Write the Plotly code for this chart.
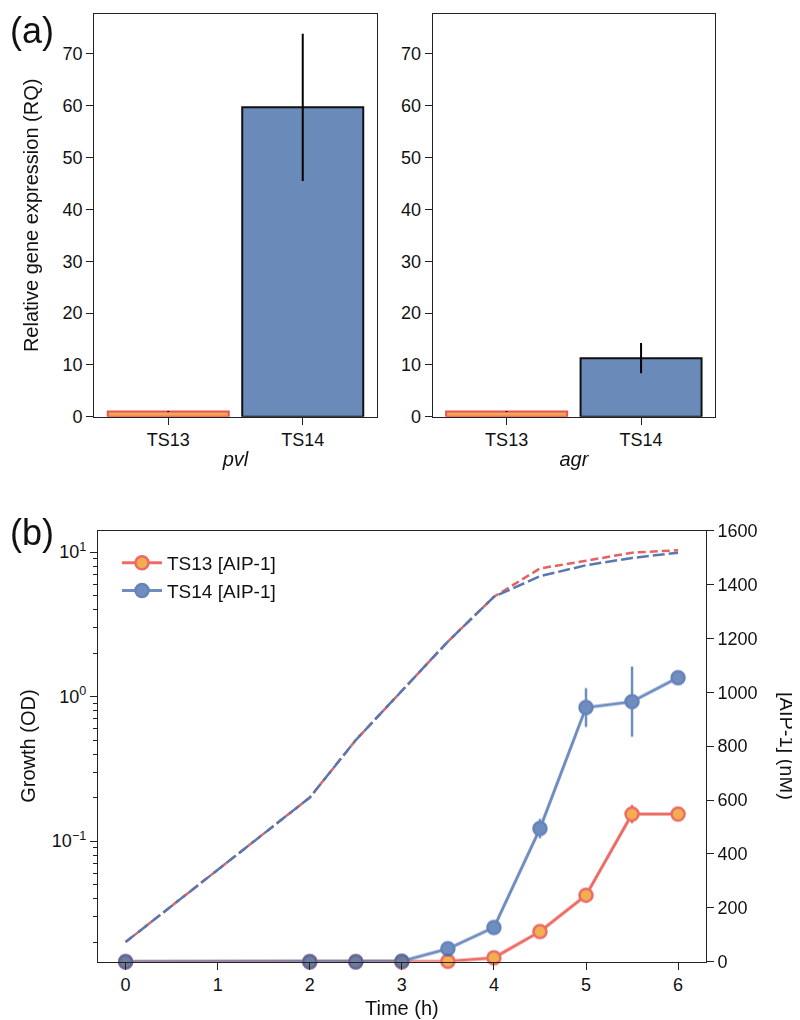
import plotly.graph_objects as go

# ---------------- data ----------------
categories = ["TS13", "TS14"]
pvl_rq = [1.0, 59.7]
pvl_err = [0.1, 14.2]
agr_rq = [1.0, 11.3]
agr_err = [0.1, 2.9]

time_h = [0, 2, 2.5, 3, 3.5, 4, 4.5, 5, 5.5, 6]
od_ts13 = [0.02, 0.2, 0.5, 1.1, 2.4, 4.9, 7.7, 8.7, 9.9, 10.3]
od_ts14 = [0.02, 0.2, 0.5, 1.1, 2.4, 4.9, 6.8, 8.1, 9.1, 9.9]
aip_ts13 = [0, 0, 0, 0, 2, 15, 112, 247, 548, 548]
aip_ts13_err = [0, 0, 0, 0, 0, 5, 10, 25, 33, 8]
aip_ts14 = [0, 0, 0, 2, 48, 127, 494, 943, 965, 1054]
aip_ts14_err = [0, 0, 0, 0, 5, 8, 36, 72, 130, 12]

# ---------------- layout helpers ----------------
# the page body has an 8px margin, so the figure is sized to fit the window
OFF = 8
W, H = 800 - OFF, 1020 - OFF
def fx(x):
    return (x - OFF) / W
def fy(y):
    return 1 - (y - OFF) / H

FONT = "Liberation Sans, Arial, sans-serif"
TICKF = dict(family=FONT, size=18, color="#111")
TITLEF = dict(family=FONT, size=20, color="#111")
AX = "#222"

bar_fill = ["#F4A55A", "#6A8AB9"]
bar_edge = ["#E8554E", "#111111"]

RED = "#E8524B"
BLUE = "#4C72B0"

fig = go.Figure()

# ---------------- panel (a) ----------------
for xa, ya, vals, errs in [("x", "y", pvl_rq, pvl_err), ("x2", "y2", agr_rq, agr_err)]:
    fig.add_trace(go.Bar(
        x=categories, y=vals, width=0.9,
        marker=dict(color=bar_fill, line=dict(color=bar_edge, width=2)),
        error_y=dict(type="data", array=errs, color="black", thickness=2, width=0),
        xaxis=xa, yaxis=ya, showlegend=False, hoverinfo="skip",
    ))

# ---------------- panel (b) ----------------
fig.add_trace(go.Scatter(
    x=time_h, y=od_ts13, mode="lines", xaxis="x3", yaxis="y3",
    line=dict(color="#E56262", width=2.5, dash="8px,4px"), showlegend=False,
))
fig.add_trace(go.Scatter(
    x=time_h, y=od_ts14, mode="lines", xaxis="x3", yaxis="y3",
    line=dict(color="#5A78B0", width=2.5, dash="12px,4px"), showlegend=False,
))
fig.add_trace(go.Scatter(
    x=time_h, y=aip_ts13, mode="lines+markers", name="TS13 [AIP-1]",
    xaxis="x3", yaxis="y4", cliponaxis=False,
    line=dict(color=RED, width=3), opacity=0.85,
    marker=dict(size=13, color="#F0A030", line=dict(color=RED, width=2.5)),
    error_y=dict(type="data", array=aip_ts13_err, color="#E8302A", thickness=2.5, width=0),
))
fig.add_trace(go.Scatter(
    x=time_h, y=aip_ts14, mode="lines+markers", name="TS14 [AIP-1]",
    xaxis="x3", yaxis="y4", cliponaxis=False,
    line=dict(color=BLUE, width=3), opacity=0.8,
    marker=dict(size=13, color=BLUE, line=dict(color="#3F65A8", width=2.5)),
    error_y=dict(type="data", array=aip_ts14_err, color=BLUE, thickness=2.5, width=0),
))

common_box = dict(showline=True, linecolor=AX, linewidth=1.3, mirror=True,
                  ticks="outside", ticklen=7, tickwidth=1.3, tickcolor=AX,
                  showgrid=False, zeroline=False, tickfont=TICKF, automargin=False)

fig.update_layout(
    template="none",
    width=W, height=H, margin=dict(l=0, r=0, t=0, b=0, pad=0, autoexpand=False),
    paper_bgcolor="white", plot_bgcolor="rgba(0,0,0,0)",
    font=dict(family=FONT, color="#111"),
    bargap=0.1,
    xaxis=dict(domain=[fx(94.3), fx(376.7)], anchor="y", range=[-0.55, 1.55],
               title=dict(text="<i>pvl</i>", font=TITLEF, standoff=2), **common_box),
    yaxis=dict(domain=[fy(416.7), fy(14)], anchor="x", range=[0, 77.7],
               tickvals=[0, 10, 20, 30, 40, 50, 60, 70],
               title=dict(text="Relative gene expression (RQ)", font=TITLEF, standoff=18), **common_box),
    xaxis2=dict(domain=[fx(432.7), fx(715)], anchor="y2", range=[-0.55, 1.55],
                title=dict(text="<i>agr</i>", font=TITLEF, standoff=2), **common_box),
    yaxis2=dict(domain=[fy(416.7), fy(14)], anchor="x2", range=[0, 77.7],
                tickvals=[0, 10, 20, 30, 40, 50, 60, 70], **common_box),
    xaxis3=dict(domain=[fx(98), fx(705.7)], anchor="y3", range=[-0.3, 6.3],
                tickvals=[0, 1, 2, 3, 4, 5, 6],
                title=dict(text="Time (h)", font=TITLEF, standoff=6), **common_box),
    yaxis3=dict(domain=[fy(961.7), fy(530.5)], anchor="x3", type="log",
                range=[-1.835, 1.149],
                tickvals=[0.1, 1, 10],
                ticktext=["10<sup>\u22121</sup>", "10<sup>0</sup>", "10<sup>1</sup>"],
                minor=dict(ticks="outside", ticklen=4, tickwidth=1, tickcolor=AX, dtick="D1", showgrid=False),
                showline=True, linecolor=AX, linewidth=1.3, mirror=False,
                ticks="outside", ticklen=7, tickwidth=1.3, tickcolor=AX,
                showgrid=False, zeroline=False, tickfont=TICKF, automargin=False,
                title=dict(text="Growth (OD)", font=TITLEF, standoff=10)),
    yaxis4=dict(overlaying="y3", side="right", anchor="x3", range=[0, 1600],
                tickvals=[0, 200, 400, 600, 800, 1000, 1200, 1400, 1600],
                showline=True, linecolor=AX, linewidth=1.3, automargin=False,
                ticks="outside", ticklen=7, tickwidth=1.3, tickcolor=AX,
                showgrid=False, zeroline=False, tickfont=TICKF),
    legend=dict(x=fx(117), y=fy(544), xanchor="left", yanchor="top", itemwidth=40,
                bgcolor="rgba(255,255,255,0)", font=dict(family=FONT, size=19, color="#111"),
                tracegroupgap=0),
    annotations=[
        dict(text="(a)", x=0, y=1, xref="paper", yref="paper", xanchor="left", yanchor="top",
             showarrow=False, font=dict(family=FONT, size=36, color="#111")),
        dict(text="(b)", x=0, y=fy(532), xref="paper", yref="paper", xanchor="left", yanchor="middle",
             showarrow=False, font=dict(family=FONT, size=36, color="#111")),
        dict(text="[AIP-1] (nM)", x=fx(787), y=fy(746), xref="paper", yref="paper",
             xanchor="center", yanchor="middle", textangle=90, showarrow=False, font=TITLEF),
    ],
)

fig.write_html("out.html")
